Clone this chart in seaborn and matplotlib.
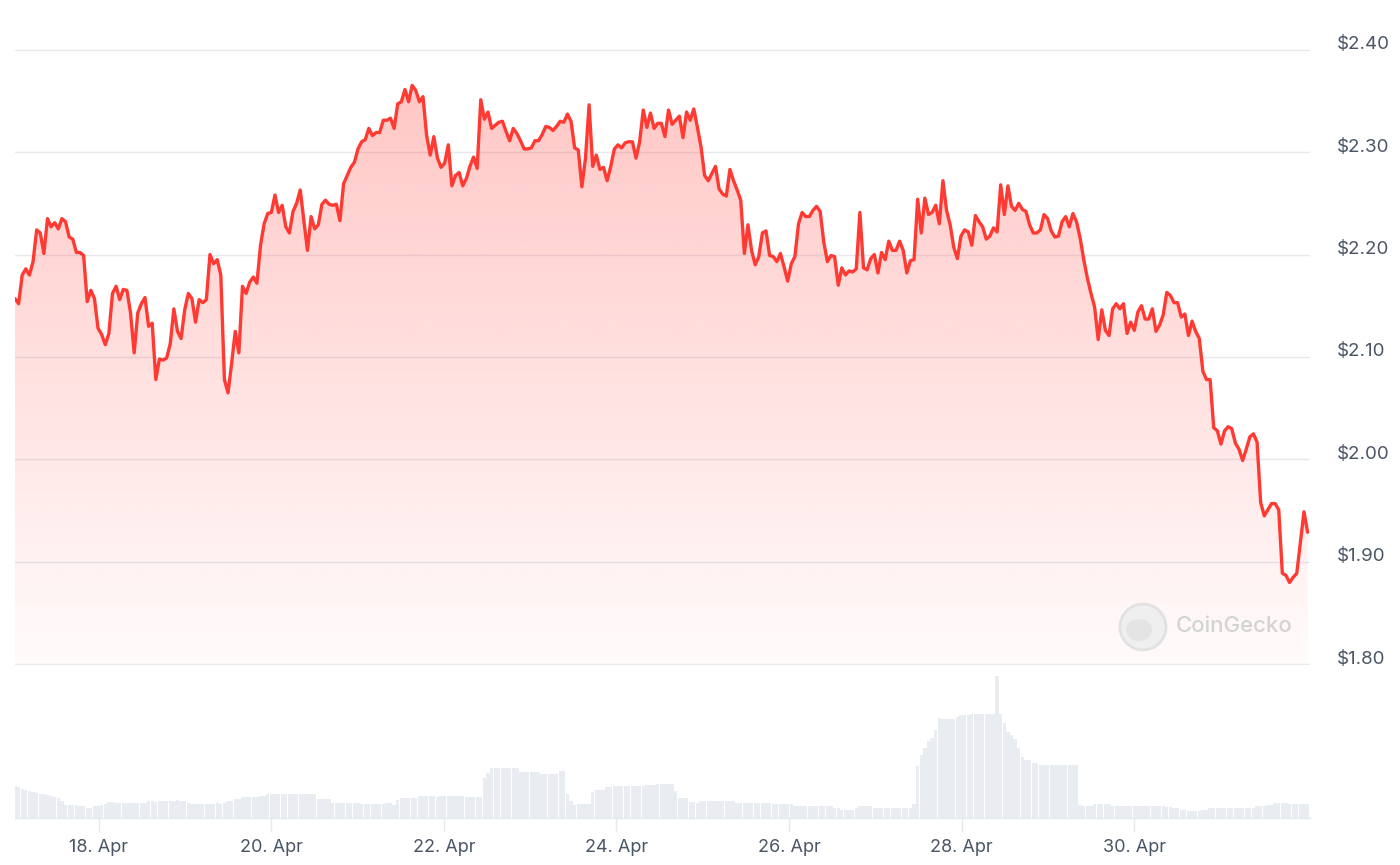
import numpy as np
import pandas as pd
import matplotlib
matplotlib.use("Agg")
import matplotlib.pyplot as plt
import matplotlib.dates as mdates
from matplotlib.colors import to_rgb
from matplotlib.patches import PathPatch, Ellipse
from matplotlib.transforms import ScaledTranslation
import seaborn as sns

# hourly price in USD, 17 Apr -> 2 May
price = [
    2.157, 2.152, 2.180, 2.186, 2.180, 2.193, 2.224, 2.221, 2.201, 2.235,
    2.227, 2.231, 2.225, 2.235, 2.232, 2.217, 2.215, 2.202, 2.202, 2.199,
    2.154, 2.165, 2.157, 2.128, 2.122, 2.112, 2.123, 2.162, 2.169, 2.156,
    2.166, 2.165, 2.143, 2.104, 2.143, 2.152, 2.158, 2.130, 2.133, 2.078,
    2.098, 2.097, 2.099, 2.113, 2.147, 2.125, 2.118, 2.146, 2.162, 2.157,
    2.134, 2.156, 2.153, 2.156, 2.200, 2.191,
    2.195, 2.180, 2.078, 2.065, 2.094, 2.125, 2.104, 2.169, 2.162, 2.173,
    2.178, 2.172, 2.209, 2.230, 2.240, 2.241, 2.258, 2.241, 2.248, 2.227,
    2.221, 2.242, 2.250, 2.263, 2.233, 2.204, 2.237, 2.225, 2.229, 2.249,
    2.253, 2.249, 2.248, 2.249, 2.233, 2.269, 2.277, 2.285, 2.290, 2.303,
    2.310, 2.312, 2.323, 2.316, 2.319, 2.319, 2.331, 2.331, 2.333, 2.323,
    2.347, 2.349, 2.361, 2.349, 2.365, 2.360, 2.349, 2.354, 2.316, 2.297,
    2.315, 2.294,
    2.285, 2.289, 2.307, 2.267, 2.277, 2.280, 2.267, 2.274, 2.286, 2.295,
    2.284, 2.351, 2.332, 2.339, 2.323, 2.326, 2.329, 2.330, 2.320, 2.311,
    2.323, 2.318, 2.311, 2.303, 2.303, 2.304, 2.311, 2.311, 2.317, 2.325,
    2.324, 2.321, 2.325, 2.330, 2.329, 2.337, 2.330, 2.304, 2.302, 2.266,
    2.294, 2.346, 2.286, 2.297, 2.283, 2.285, 2.272, 2.286, 2.303, 2.307,
    2.304, 2.309, 2.310, 2.310, 2.294, 2.310, 2.341, 2.324, 2.338, 2.323,
    2.328, 2.328, 2.315, 2.341, 2.327, 2.331, 2.335, 2.314, 2.339, 2.331,
    2.342, 2.324, 2.305, 2.277, 2.272, 2.279, 2.286, 2.264, 2.259, 2.257,
    2.283, 2.272, 2.263, 2.253, 2.201, 2.229, 2.204, 2.190, 2.198, 2.221,
    2.223, 2.199, 2.198, 2.193, 2.201, 2.188, 2.174, 2.191, 2.198, 2.230,
    2.241, 2.237, 2.237, 2.243, 2.247, 2.242, 2.212, 2.193, 2.199, 2.198,
    2.170, 2.187, 2.180, 2.184, 2.183, 2.186, 2.241, 2.187, 2.185, 2.196,
    2.200, 2.182,
    2.202, 2.195, 2.213, 2.204, 2.204, 2.213, 2.204, 2.182, 2.194, 2.195,
    2.254, 2.221, 2.255, 2.239, 2.241, 2.248, 2.230, 2.272, 2.243, 2.229,
    2.207, 2.196, 2.218, 2.224, 2.222, 2.209, 2.238, 2.232, 2.227, 2.215,
    2.218, 2.226, 2.222, 2.268, 2.239, 2.267, 2.247, 2.243, 2.250, 2.244,
    2.242, 2.229, 2.221, 2.221, 2.224, 2.239, 2.235, 2.223, 2.217, 2.218,
    2.232, 2.237, 2.227, 2.240, 2.232, 2.216, 2.195, 2.177, 2.162, 2.149,
    2.117, 2.146, 2.126, 2.121, 2.147, 2.152, 2.147, 2.152, 2.123, 2.134,
    2.126, 2.144, 2.150, 2.137, 2.137, 2.147, 2.125, 2.131, 2.141, 2.163,
    2.160, 2.153, 2.153, 2.139, 2.142, 2.121, 2.135, 2.125, 2.118, 2.086,
    2.078, 2.078, 2.031, 2.028, 2.015, 2.028, 2.032, 2.030, 2.016, 2.010,
    1.999, 2.010, 2.022, 2.025, 2.017, 1.958, 1.945, 1.951, 1.957, 1.957,
    1.951, 1.889, 1.887, 1.880, 1.885, 1.889, 1.919, 1.949, 1.929,
]

# hourly traded volume (relative units)
volume = [
    32, 31, 29, 28, 27, 26, 25, 24, 24, 23, 22, 21, 20, 17,
    13, 13, 13, 13, 12, 12, 10, 10, 12, 12, 13, 14, 16, 16, 15,
    15, 15, 15, 15, 15, 15, 15, 15,
    17, 17, 16, 17, 17, 17, 17, 17, 18, 17, 17, 15,
    14, 14, 14, 14, 14, 14, 14, 15, 14, 15,
    17, 17, 19, 19, 21, 21, 21, 21, 21, 22, 22,
    24, 24, 24, 24, 24, 24, 24, 24, 24, 24, 24, 24, 24, 24,
    19, 19, 19, 19,
    15, 15, 15, 15, 15, 15, 15, 15,
    14, 14, 14, 14, 14, 14, 14, 15, 15, 13, 18,
    20, 20, 20, 20, 20, 22, 22, 22, 22, 22, 21,
    22, 22, 22, 22, 22, 22, 22, 21, 21, 21, 21, 21,
    40, 45, 50, 50, 50, 50, 50, 50, 50, 50,
    46, 46, 46, 46, 46, 46, 44, 44, 44, 44, 44, 47, 47,
    24, 17, 13, 14, 14, 14, 14,
    26, 28, 28, 28, 31, 31,
    32, 32, 32, 32, 32, 32, 32, 32, 32, 33, 33, 33,
    34, 34, 34, 34, 34, 27, 20, 20, 20, 16, 16, 15,
    17, 17, 17, 17, 17, 17, 17, 17, 17, 17,
    15, 15, 15, 15, 15, 15, 15, 15, 15, 15,
    14, 14, 14, 14, 14, 14,
    12, 12, 12, 12, 12, 12, 12, 12, 12, 12, 12,
    10, 10, 8, 8, 8, 8, 10, 12, 12, 12, 12,
    10, 10, 10, 10, 10, 10, 10, 10, 10, 10, 10, 14,
    52, 63, 70, 77, 80, 88, 100, 99, 99, 99, 99, 101,
    103, 103, 103, 104, 104, 104, 104, 104, 104, 104, 142, 104,
    95, 86, 83, 79, 70, 61, 58, 58, 55, 55,
    53, 53, 53, 53, 53, 53, 53, 53, 53, 53, 53,
    13, 12, 12, 12, 14, 14, 14, 14, 14,
    12, 12, 12, 12, 12, 12, 12, 12, 12, 12, 12, 12, 12, 12, 12,
    11, 11, 10, 10, 8, 8, 7, 7, 7, 7, 8, 8,
    10, 10, 10, 10, 10, 10, 10, 10, 10, 10, 10, 10, 10,
    12, 12, 12, 13, 13, 15, 15, 15, 15,
    14, 14, 14, 14, 14, 14,
]

start_time = "2024-04-17 00:45"
end_time = "2024-05-02 00:15"
view_end = "2024-05-02 00:55"

tick_days = ["2024-04-18", "2024-04-20", "2024-04-22", "2024-04-24",
             "2024-04-26", "2024-04-28", "2024-04-30"]
tick_labels = ["18. Apr", "20. Apr", "22. Apr", "24. Apr",
               "26. Apr", "28. Apr", "30. Apr"]
price_ticks = [1.80, 1.90, 2.00, 2.10, 2.20, 2.30, 2.40]
price_labels = ["$1.80", "$1.90", "$2.00", "$2.10", "$2.20", "$2.30", "$2.40"]

RED = "#ff3a33"
GRID = "#e6e9ee"
LABEL = "#4a5565"

sns.set_theme(style="white")
plt.rcParams["font.family"] = ["Inter", "DejaVu Sans"]

times = pd.date_range(start_time, end_time, periods=len(price))
df = pd.DataFrame({"time": times, "price": price, "volume": volume})

W, H = 1400, 865
fig = plt.figure(figsize=(W / 100, H / 100), dpi=100)
ax = fig.add_axes([15 / W, 1 - 665 / H, 1295 / W, 616 / H])
axv = fig.add_axes([15 / W, 1 - 818 / H, 1295 / W, 153 / H], sharex=ax)

# gradient area under the price line
x0 = mdates.date2num(times[0])
x1 = mdates.date2num(times[-1])
rgba = np.zeros((256, 1, 4))
rgba[..., :3] = to_rgb(RED)
rgba[..., 3] = np.linspace(0.30, 0.02, 256)[:, None]
im = ax.imshow(rgba, extent=[x0, x1, 1.80, 2.40], origin="upper",
               aspect="auto", zorder=1, interpolation="bilinear")
poly = ax.fill_between(df["time"], df["price"], 1.80, color="none", lw=0)
clip = PathPatch(poly.get_paths()[0], transform=ax.transData,
                 facecolor="none", edgecolor="none")
ax.add_patch(clip)
im.set_clip_path(clip)

sns.lineplot(data=df, x="time", y="price", ax=ax, color=RED,
             linewidth=2.4, zorder=3)

ax.set_xlim(times[0], pd.Timestamp(view_end))
ax.set_ylim(1.7995, 2.4005)
ax.set_yticks(price_ticks)
ax.set_yticklabels(price_labels)
ax.yaxis.tick_right()
ax.yaxis.grid(True, color=GRID, linewidth=1)
ax.xaxis.grid(False)
ax.tick_params(axis="y", length=0, pad=19, labelsize=13.5, labelcolor=LABEL)
ax.tick_params(axis="x", length=0, labelbottom=False)
ax.set_xlabel("")
ax.set_ylabel("")
for s in ax.spines.values():
    s.set_visible(False)
for lab in ax.get_yticklabels():
    lab.set_horizontalalignment("left")
    lab.set_transform(lab.get_transform() + ScaledTranslation(0, 0.07, fig.dpi_scale_trans))

# volume bars
axv.bar(df["time"], df["volume"], width=0.92 / 24, color="#e9ecf0", linewidth=0)
axv.set_ylim(0, 153)
axv.set_yticks([])
axv.set_xticks(pd.to_datetime(tick_days))
axv.set_xticklabels(tick_labels)
axv.tick_params(axis="x", length=10, width=1, color=GRID, pad=5,
                labelsize=13, labelcolor=LABEL, bottom=True)
for side in ["top", "left", "right"]:
    axv.spines[side].set_visible(False)
axv.spines["bottom"].set_color(GRID)
axv.spines["bottom"].set_linewidth(1)
axv.set_xlabel("")
axv.set_ylabel("")
axv.set_facecolor("none")

# watermark
fig.add_artist(Ellipse((1143 / W, 1 - 627 / H), 46 / W, 46 / H,
                       transform=fig.transFigure, facecolor="#efefef",
                       edgecolor="#e2e2e2", linewidth=2))
fig.add_artist(Ellipse((1139 / W, 1 - 630 / H), 26 / W, 22 / H,
                       transform=fig.transFigure, facecolor="#e4e4e4",
                       edgecolor="none"))
fig.text(1176 / W, 1 - 626 / H, "CoinGecko", fontsize=16, fontweight="medium",
         color="#d3d3d3", va="center", ha="left")

fig.savefig("out.png", dpi=100)
